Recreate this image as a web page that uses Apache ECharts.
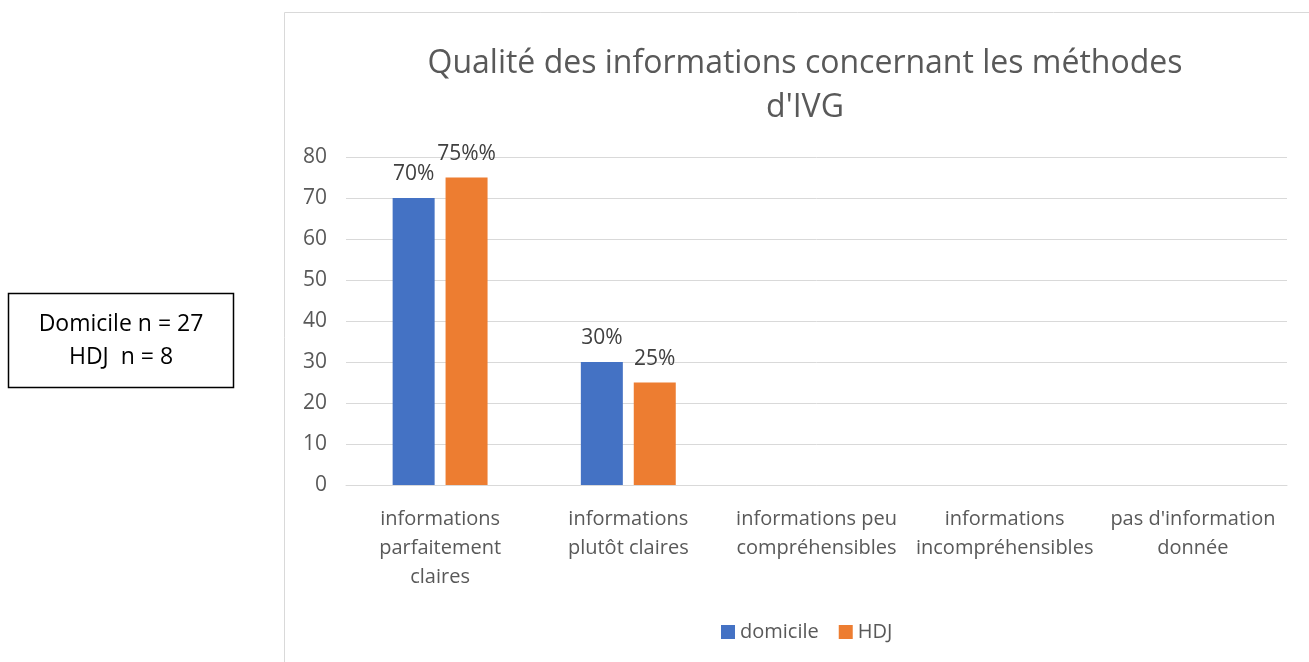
<!DOCTYPE html>
<html>
<head>
<meta charset="utf-8">
<script src="https://cdn.jsdelivr.net/npm/echarts@6/dist/echarts.min.js"></script>
<style>
  html, body { margin: 0; padding: 0; background: #fff; }
  #chart { width: 1309px; height: 662px; }
</style>
</head>
<body>
<div id="chart"></div>
<script>
// categories and values
const categories = [
  'informations\nparfaitement\nclaires',
  'informations\nplutôt claires',
  'informations peu\ncompréhensibles',
  'informations\nincompréhensibles',
  "pas d'information\ndonnée"
]
const domicile = [70, 30, 0, 0, 0]
const hdj = [75, 25, 0, 0, 0]
const domicileLabels = ['70%', '30%', '', '', '']
const hdjLabels = ['75%%', '25%', '', '', '']

const font = '"Open Sans", "Noto Sans", sans-serif'
const chart = echarts.init(document.getElementById('chart'))

const option = {
  backgroundColor: '#fff',
  textStyle: { fontFamily: font },
  title: {
    text: "Qualité des informations concernant les méthodes\nd'IVG",
    left: 800,
    top: 37,
    textAlign: 'center',
    textStyle: {
      fontFamily: font,
      fontWeight: 'normal',
      fontSize: 32,
      lineHeight: 44,
      color: '#595959'
    }
  },
  legend: {
    data: ['domicile', 'HDJ'],
    left: 716,
    top: 617,
    icon: 'rect',
    itemWidth: 14,
    itemHeight: 14,
    itemGap: 20,
    textStyle: { fontFamily: font, fontSize: 20, color: '#595959' }
  },
  grid: { left: 346, right: 22, top: 157, bottom: 177 },
  xAxis: {
    type: 'category',
    data: categories,
    axisLine: { lineStyle: { color: '#d9d9d9', width: 1 } },
    axisTick: { show: false },
    axisLabel: {
      interval: 0,
      margin: 20,
      fontFamily: font,
      fontSize: 20,
      lineHeight: 29,
      color: '#595959'
    }
  },
  yAxis: {
    type: 'value',
    min: 0,
    max: 80,
    interval: 10,
    axisLine: { show: false },
    axisTick: { show: false },
    axisLabel: { margin: 19, fontFamily: font, fontSize: 21, color: '#595959' },
    splitLine: { lineStyle: { color: '#d9d9d9', width: 1 } }
  },
  series: [
    {
      name: 'domicile',
      type: 'bar',
      data: domicile,
      barWidth: 42,
      barGap: '26%',
      itemStyle: { color: '#4472c4' },
      label: {
        show: true,
        position: 'top',
        distance: 13,
        fontFamily: font,
        fontSize: 21,
        color: '#404040',
        formatter: p => domicileLabels[p.dataIndex]
      }
    },
    {
      name: 'HDJ',
      type: 'bar',
      data: hdj,
      barWidth: 42,
      itemStyle: { color: '#ed7d31' },
      label: {
        show: true,
        position: 'top',
        distance: 13,
        fontFamily: font,
        fontSize: 21,
        color: '#404040',
        formatter: p => hdjLabels[p.dataIndex]
      }
    }
  ],
  graphic: [
    {
      type: 'rect',
      shape: { x: 284.5, y: 12.5, width: 1040, height: 660 },
      style: { fill: 'none', stroke: '#d9d9d9', lineWidth: 1 },
      silent: true,
      z: -1
    },
    {
      type: 'rect',
      shape: { x: 8.5, y: 293.5, width: 225, height: 94 },
      style: { fill: '#fff', stroke: '#000', lineWidth: 1.5 }
    },
    {
      type: 'text',
      x: 121,
      y: 341,
      style: {
        text: 'Domicile n = 27\nHDJ  n = 8',
        align: 'center',
        verticalAlign: 'middle',
        fontFamily: font,
        fontSize: 23,
        lineHeight: 33,
        fill: '#000'
      }
    }
  ]
}
chart.setOption(option)
</script>
</body>
</html>
